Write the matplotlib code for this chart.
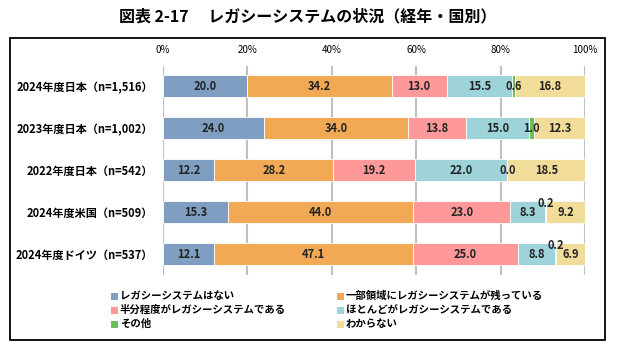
import matplotlib
matplotlib.use("Agg")
import matplotlib.pyplot as plt
from matplotlib.patches import Rectangle
import numpy as np

plt.rcParams['font.family'] = ['Noto Sans CJK JP', 'DejaVu Sans']

title = "図表 2-17　 レガシーシステムの状況（経年・国別）"
categories = ["2024年度日本（n=1,516）", "2023年度日本（n=1,002）", "2022年度日本（n=542）",
              "2024年度米国（n=509）", "2024年度ドイツ（n=537）"]
series_names = ["レガシーシステムはない", "一部領域にレガシーシステムが残っている",
                "半分程度がレガシーシステムである", "ほとんどがレガシーシステムである",
                "その他", "わからない"]
s_none = [20.0, 24.0, 12.2, 15.3, 12.1]
s_part = [34.2, 34.0, 28.2, 44.0, 47.1]
s_half = [13.0, 13.8, 19.2, 23.0, 25.0]
s_most = [15.5, 15.0, 22.0, 8.3, 8.8]
s_other = [0.6, 1.0, 0.0, 0.2, 0.2]
s_unknown = [16.8, 12.3, 18.5, 9.2, 6.9]
tick_values = [0, 20, 40, 60, 80, 100]
tick_labels = ["0%", "20%", "40%", "60%", "80%", "100%"]

series = [s_none, s_part, s_half, s_most, s_other, s_unknown]
colors = ["#809EC2", "#F2A956", "#FF9999", "#9ED3D9", "#6ABF5A", "#F2DC99"]
# label vertical offsets (points) for crowded small values: (row, series) -> dy
label_dy = {(3, 4): 6, (4, 4): 6}

W, H = 621, 349
fig = plt.figure(figsize=(W / 100, H / 100), dpi=100)

# outer frame
fig.patches.append(Rectangle((10 / W, 1 - 340 / H), 595 / W, 302 / H, transform=fig.transFigure,
                             fill=False, edgecolor="black", linewidth=1.3))

fig.text(308 / W, 1 - 16 / H, title, ha="center", va="center", fontsize=11.5, fontweight="bold")

ax = fig.add_axes([163 / W, 1 - 275 / H, 422 / W, 209 / H])
y = np.arange(len(categories))
left = np.zeros(len(categories))
for i, (vals, c) in enumerate(zip(series, colors)):
    vals = np.array(vals)
    ax.barh(y, vals, left=left, height=0.53, color=c, edgecolor="white", linewidth=0.6, zorder=2)
    for r, (v, l) in enumerate(zip(vals, left)):
        dy = label_dy.get((r, i), 0)
        ax.annotate(f"{v:.1f}", (l + v / 2, r), xytext=(0, dy), textcoords="offset points",
                    ha="center", va="center", fontsize=8, fontweight="bold", color="#222222", zorder=3)
    left = left + vals

ax.set_xlim(0, 100)
ax.set_ylim(4.5, -0.48)
ax.set_yticks(y)
ax.set_yticklabels(categories, fontsize=8, fontweight="bold")
ax.tick_params(axis="y", length=0, pad=7)
ax.set_xticks(tick_values)
ax.set_xticklabels(tick_labels, fontsize=7)
ax.xaxis.tick_top()
ax.tick_params(axis="x", length=0, pad=8)
for v in tick_values:
    ax.axvline(v, color="#C0C0C0", linewidth=1.5, zorder=1)
for s in ax.spines.values():
    s.set_visible(False)

# legend (two columns, 3 rows)
col_x = [111, 337]
row_y = [296, 310, 324]
order = [0, 2, 4, 1, 3, 5]
for k, idx in enumerate(order):
    cx = col_x[k // 3]
    cy = row_y[k % 3]
    fig.patches.append(Rectangle((cx / W, 1 - (cy + 3.5) / H), 7 / W, 7 / H, transform=fig.transFigure,
                                 facecolor=colors[idx], edgecolor="none"))
    fig.text((cx + 9) / W, 1 - cy / H, series_names[idx], ha="left", va="center",
             fontsize=7.5, fontweight="bold")

fig.savefig("out.png", dpi=100)
